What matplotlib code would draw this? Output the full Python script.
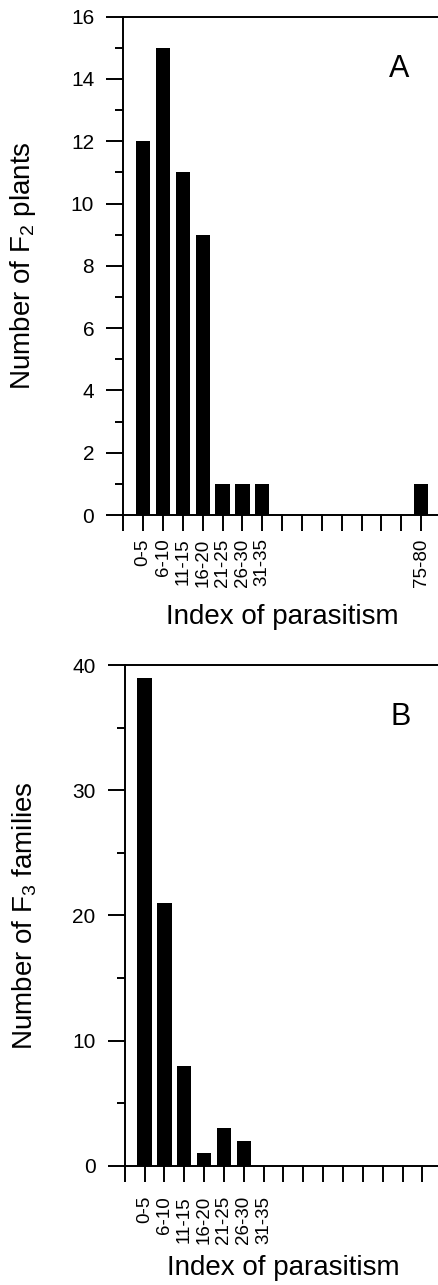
import matplotlib
matplotlib.use("Agg")
import matplotlib.pyplot as plt
from matplotlib.ticker import MultipleLocator

plt.rcParams['font.family'] = ['Liberation Sans', 'DejaVu Sans']
plt.rcParams['mathtext.fontset'] = 'custom'
plt.rcParams['mathtext.rm'] = 'Liberation Sans'
plt.rcParams['mathtext.it'] = 'Liberation Sans:italic'

# index of parasitism classes (15 slots, some unlabeled)
classes_a = ['0-5', '6-10', '11-15', '16-20', '21-25', '26-30', '31-35',
             '', '', '', '', '', '', '', '75-80']
plants_f2 = [12, 15, 11, 9, 1, 1, 1, 0, 0, 0, 0, 0, 0, 0, 1]

classes_b = ['0-5', '6-10', '11-15', '16-20', '21-25', '26-30', '31-35',
             '', '', '', '', '', '', '', '']
families_f3 = [39, 21, 8, 1, 3, 2, 0, 0, 0, 0, 0, 0, 0, 0, 0]

fig = plt.figure(figsize=(4.39, 12.85), dpi=100)
ax_a = fig.add_axes([0.2809, 0.5992, 0.7235, 0.3878])
ax_b = fig.add_axes([0.2840, 0.0928, 0.7235, 0.3896])


def draw_panel(ax, labels, values, ymax, major, minor, ylabel, letter,
               xlab_y, xpad):
    pos = list(range(1, len(labels) + 1))
    ax.bar(pos, values, width=0.72, color='black', zorder=3)
    ax.set_xlim(0, 16)
    ax.set_ylim(0, ymax)
    ax.set_xticks([0] + pos)
    ax.set_xticklabels([''] + labels, rotation=90, fontsize=13.5)
    ax.yaxis.set_major_locator(MultipleLocator(major))
    ax.yaxis.set_minor_locator(MultipleLocator(minor))
    ax.tick_params(axis='y', which='major', direction='out', length=12,
                   width=1.4, labelsize=15, pad=9)
    ax.tick_params(axis='y', which='minor', direction='out', length=5.5, width=1.4)
    ax.tick_params(axis='x', which='major', direction='out', length=11.8,
                   width=1.4, pad=xpad)
    ax.spines['right'].set_visible(False)
    for s in ['left', 'top', 'bottom']:
        ax.spines[s].set_linewidth(1.4)
    ax.set_ylabel(ylabel, fontsize=20)
    ax.yaxis.set_label_coords(-0.27, 0.5)
    ax.set_xlabel('Index of parasitism', fontsize=20)
    ax.xaxis.set_label_coords(0.5, xlab_y)
    ax.text(0.868, 0.896, letter, transform=ax.transAxes, fontsize=22,
            ha='center', va='center')


draw_panel(ax_a, classes_a, plants_f2, 16, 2, 1,
           'Number of F$_2$ plants', 'A', -0.178, 5)
draw_panel(ax_b, classes_b, families_f3, 40, 10, 5,
           'Number of F$_3$ families', 'B', -0.178, 10)

fig.savefig('out.png', dpi=100)
